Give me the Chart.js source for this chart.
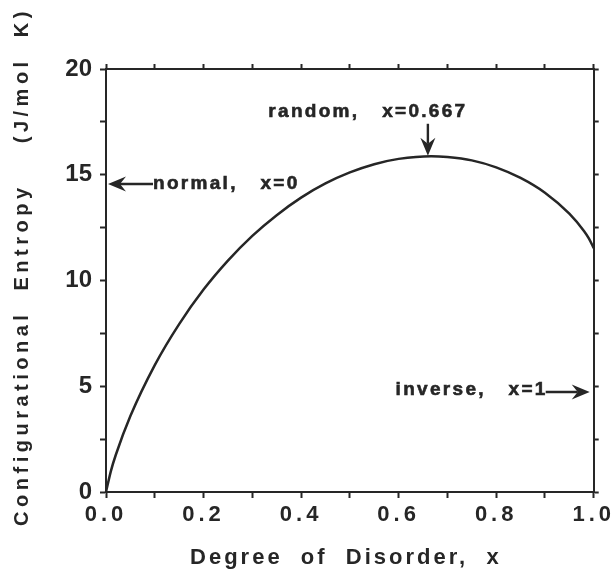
<!DOCTYPE html>
<html>
<head>
<meta charset="utf-8">
<script src="https://cdn.jsdelivr.net/npm/chart.js@4.4.1/dist/chart.umd.min.js"></script>
<style>
  html, body { margin: 0; padding: 0; background: #fff; }
  #wrap { width: 613px; height: 572px; position: relative; }
</style>
</head>
<body>
<div id="wrap"><canvas id="chart"></canvas></div>
<script>
// values
const disorder = [0, 0.01, 0.02, 0.05, 0.1, 0.15, 0.2, 0.25, 0.3, 0.35, 0.4, 0.45, 0.5,
                  0.55, 0.6, 0.667, 0.7, 0.75, 0.8, 0.85, 0.9, 0.95, 0.98, 0.99, 1.0];
const entropy = [0, 0.99, 1.75, 3.59, 6.00, 7.94, 9.57, 10.94, 12.11, 13.09, 13.92, 14.59, 15.11,
                 15.50, 15.75, 15.88, 15.84, 15.68, 15.35, 14.85, 14.15, 13.16, 12.34, 11.99, 11.53];
const xTicks = [0, 0.2, 0.4, 0.6, 0.8, 1.0];
const yTicks = [0, 5, 10, 15, 20];

// labelled arrows: text, where the arrow points (data units), which way it points
const noteText = ['normal,   x=0', 'random,   x=0.667', 'inverse,   x=1'];
const noteX = [0, 0.66, 1];
const noteY = [14.56, 15.85, 4.73];
const noteDir = ['left', 'down', 'right'];

const ink = '#262626';
const family = "'Liberation Sans', Arial, Helvetica, sans-serif";

const isTick = (list, v) => list.some(t => Math.abs(t - v) < 1e-6);

// letter spacing (canvas) for axis labels / titles, plus a nudge for titles
const spacing = {
  x: { labels: '4px', title: '3px', dx: -4, dy: 0 },
  y: { labels: '0px', title: '4.5px', dx: 0, dy: -14 }
};

const spacedText = {
  id: 'spacedText',
  afterLayout(chart) {
    Object.keys(spacing).forEach(id => {
      const s = chart.scales[id];
      if (!s || s._patched) return;
      const cfg = spacing[id];
      const drawLabels = s.drawLabels;
      const drawTitle = s.drawTitle;
      s.drawLabels = function (area) {
        const ctx = this.ctx;
        ctx.save();
        ctx.letterSpacing = cfg.labels;
        drawLabels.call(this, area);
        ctx.restore();
      };
      s.drawTitle = function () {
        const ctx = this.ctx;
        ctx.save();
        ctx.letterSpacing = cfg.title;
        ctx.translate(cfg.dx, cfg.dy);
        drawTitle.call(this);
        ctx.restore();
      };
      s._patched = true;
    });
  }
};

function arrowHead(ctx, x, y, angle) {
  ctx.save();
  ctx.translate(x, y);
  ctx.rotate(angle);
  ctx.beginPath();
  ctx.moveTo(0, 0);
  ctx.lineTo(-18, -7.5);
  ctx.lineTo(-12, 0);
  ctx.lineTo(-18, 7.5);
  ctx.closePath();
  ctx.fill();
  ctx.restore();
}

function heavyText(ctx, txt, x, y) {
  ctx.fillText(txt, x, y);
  ctx.strokeText(txt, x, y);
}

const notes = {
  id: 'notes',
  afterDatasetsDraw(chart) {
    const { ctx, scales: { x, y } } = chart;
    ctx.save();
    ctx.fillStyle = ink;
    ctx.strokeStyle = ink;
    ctx.font = `bold 19px ${family}`;
    ctx.letterSpacing = '2.3px';
    ctx.textBaseline = 'middle';
    noteText.forEach((txt, i) => {
      const px = x.getPixelForValue(noteX[i]);
      const py = y.getPixelForValue(noteY[i]);
      ctx.lineWidth = 2.4;
      if (noteDir[i] === 'left') {
        const tx = px + 2;
        ctx.beginPath(); ctx.moveTo(tx + 12, py); ctx.lineTo(tx + 45, py); ctx.stroke();
        arrowHead(ctx, tx, py, Math.PI);
        ctx.textAlign = 'left';
        ctx.lineWidth = 0.6;
        heavyText(ctx, txt, tx + 45, py);
      } else if (noteDir[i] === 'down') {
        const ty = py - 1;
        ctx.beginPath(); ctx.moveTo(px, ty - 32); ctx.lineTo(px, ty - 12); ctx.stroke();
        arrowHead(ctx, px, ty, Math.PI / 2);
        ctx.textAlign = 'center';
        ctx.lineWidth = 0.6;
        heavyText(ctx, txt, px - 60, ty - 44);
      } else {
        const tx = px - 4;
        ctx.beginPath(); ctx.moveTo(tx - 44, py); ctx.lineTo(tx - 12, py); ctx.stroke();
        arrowHead(ctx, tx, py, 0);
        ctx.textAlign = 'right';
        ctx.lineWidth = 0.6;
        heavyText(ctx, txt, tx - 42, py - 2);
      }
    });
    ctx.restore();
  }
};

const tickGrid = len => ({
  drawOnChartArea: false,
  drawTicks: true,
  tickLength: len,
  tickColor: ink,
  tickWidth: 2
});
const border = { display: true, color: ink, width: 2 };

new Chart(document.getElementById('chart'), {
  type: 'line',
  data: {
    datasets: [{
      data: disorder.map((d, i) => ({ x: d, y: entropy[i] })),
      borderColor: ink,
      borderWidth: 2.5,
      pointRadius: 0,
      cubicInterpolationMode: 'monotone',
      fill: false,
      clip: false
    }]
  },
  options: {
    responsive: true,
    maintainAspectRatio: false,
    animation: false,
    layout: { padding: 0 },
    plugins: { legend: { display: false }, tooltip: { enabled: false } },
    scales: {
      x: {
        type: 'linear', position: 'bottom', min: 0, max: 1,
        ticks: {
          stepSize: 0.1, autoSkip: false, maxRotation: 0, color: ink, padding: 4,
          font: { family, size: 22, weight: 'bold' },
          callback: v => isTick(xTicks, v) ? v.toFixed(1) : ''
        },
        grid: tickGrid(6),
        border,
        title: {
          display: true, text: 'Degree  of  Disorder,  x', color: ink,
          font: { family, size: 22, weight: 'bold' }, padding: { top: 0, bottom: 1 }
        },
        afterFit: s => { s.height = 80; }
      },
      x2: {
        type: 'linear', position: 'top', min: 0, max: 1,
        ticks: { display: false, stepSize: 0.1 },
        grid: tickGrid(5),
        border,
        afterFit: s => { s.height = 69; }
      },
      y: {
        type: 'linear', position: 'left', min: 0, max: 20,
        ticks: {
          stepSize: 2.5, autoSkip: false, color: ink, padding: 8,
          font: { family, size: 24, weight: 'bold' },
          callback: v => isTick(yTicks, v) ? String(v) : ''
        },
        grid: tickGrid(6),
        border,
        title: {
          display: true, text: 'Configurational  Entropy    (J/mol  K)', color: ink,
          font: { family, size: 20, weight: 'bold' }, padding: { top: 10, bottom: 0 }
        },
        afterFit: s => { s.width = 106; }
      },
      y2: {
        type: 'linear', position: 'right', min: 0, max: 20,
        ticks: { display: false, stepSize: 2.5 },
        grid: tickGrid(5),
        border,
        afterFit: s => { s.width = 17; }
      }
    }
  },
  plugins: [spacedText, notes]
});
</script>
</body>
</html>
